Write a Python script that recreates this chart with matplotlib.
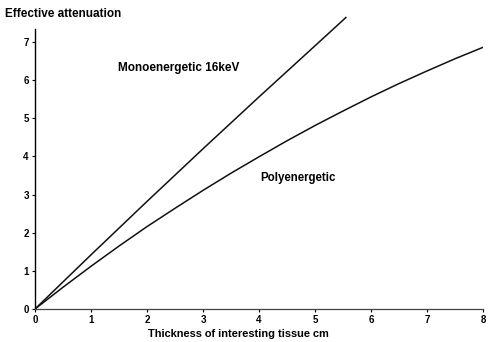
import matplotlib
matplotlib.use("Agg")
import matplotlib.pyplot as plt

# Data
x_mono = [0, 1, 2, 3, 4, 5, 5.55]
y_mono = [0, 1.42, 2.82, 4.2, 5.56, 6.9, 7.64]
x_poly = [0, 0.5, 1, 1.5, 2, 2.5, 3, 3.5, 4, 4.5, 5, 5.5, 6, 6.5, 7, 7.5, 8]
y_poly = [0, 0.57, 1.12, 1.65, 2.16, 2.64, 3.11, 3.56, 3.99, 4.41, 4.81,
          5.19, 5.56, 5.91, 6.24, 6.56, 6.86]
x_ticks = [0, 1, 2, 3, 4, 5, 6, 7, 8]
y_ticks = [0, 1, 2, 3, 4, 5, 6, 7]

plt.rcParams['font.family'] = ['Liberation Sans', 'DejaVu Sans']

fig = plt.figure(figsize=(4.95, 3.42), dpi=100)
ax = fig.add_axes([0.0707, 0.0965, 0.9053, 0.859])
ax.plot(x_mono, y_mono, color='#111111', lw=1.1)
ax.plot(x_poly, y_poly, color='#111111', lw=1.1)
ax.set_xlim(0, 8)
ax.set_ylim(0, 7.7)
for s in ['top', 'right']:
    ax.spines[s].set_visible(False)
ax.spines['left'].set_bounds(0, 7.35)
ax.spines['left'].set_linewidth(1.0)
ax.spines['bottom'].set_color('#444444')
ax.spines['bottom'].set_linewidth(0.9)
ax.set_xticks(x_ticks)
ax.set_yticks(y_ticks)
ax.tick_params(direction='out', length=2.5, width=0.8, labelsize=7, pad=2)
for lbl in ax.get_xticklabels() + ax.get_yticklabels():
    lbl.set_fontweight('bold')

ax.text(1.48, 6.31, 'Monoenergetic 16keV', fontsize=8.5, fontweight='bold',
        ha='left', va='center')
ax.text(4.02, 3.43, 'Polyenergetic', fontsize=8.3, fontweight='bold',
        ha='left', va='center')

fig.text(5/495, 1 - 14/342, 'Effective attenuation', fontsize=8.5,
         fontweight='bold', ha='left', va='center')
fig.text(238/495, 1 - 334/342, 'Thickness of interesting tissue cm',
         fontsize=7.9, fontweight='bold', ha='center', va='center')

fig.savefig('out.png', dpi=100)
